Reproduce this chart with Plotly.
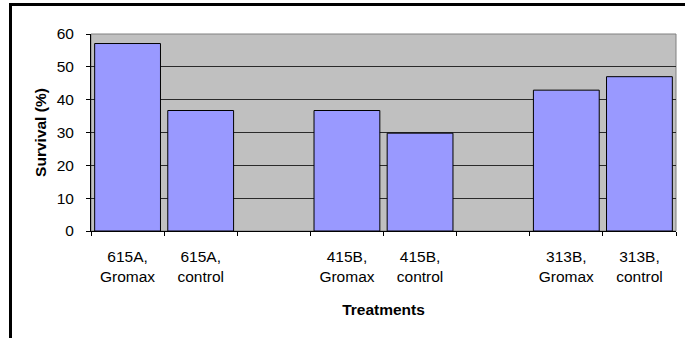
import plotly.graph_objects as go

categories = ["615A,<br>Gromax", "615A,<br>control", " ", "415B,<br>Gromax",
              "415B,<br>control", "  ", "313B,<br>Gromax", "313B,<br>control"]
survival = [57.1, 36.7, None, 36.7, 29.8, None, 42.9, 47.0]
y_ticks = [0, 10, 20, 30, 40, 50, 60]

FONT = "Liberation Sans, Arial, sans-serif"
FS = 15.5

fig = go.Figure()
fig.add_trace(go.Bar(
    x=categories, y=survival,
    marker=dict(color="#9999FF", line=dict(color="black", width=1)),
    hoverinfo="x+y",
))

W, H = 685, 338
L, R, T, B = 91, 9, 34, 107
pw, ph = W - L - R, H - T - B

def px_x(p):
    return (p - L) / pw

def px_y(p):
    return (H - B - p) / ph

fig.update_layout(
    width=W, height=H,
    margin=dict(l=L, r=R, t=T, b=B),
    paper_bgcolor="white",
    plot_bgcolor="#C0C0C0",
    bargap=0.1,
    showlegend=False,
    font=dict(family=FONT, size=FS, color="black"),
    xaxis=dict(
        type="category",
        showline=True, linecolor="black", linewidth=1,
        ticks="outside", tickson="boundaries", ticklen=4, tickcolor="black",
        showgrid=False,
        tickfont=dict(size=FS),
        ticklabelstandoff=11,
        title=dict(text="<b>Treatments</b>", font=dict(size=FS), standoff=20),
    ),
    yaxis=dict(
        range=[0, 60],
        tickvals=y_ticks,
        showline=True, linecolor="black", linewidth=1,
        ticks="outside", ticklen=4, tickcolor="black",
        showgrid=True, gridcolor="#2a2a2a", gridwidth=1,
        zeroline=False,
        tickfont=dict(size=FS),
        ticklabelstandoff=9,
        title=dict(text="<b>Survival (%)</b>", font=dict(size=FS), standoff=6),
    ),
    shapes=[
        dict(type="rect", xref="paper", yref="paper", x0=0, x1=1, y0=0, y1=1,
             line=dict(color="#808080", width=1), layer="below"),
        dict(type="rect", xref="paper", yref="paper",
             x0=px_x(10.5), x1=px_x(720), y0=px_y(4.5), y1=px_y(380),
             line=dict(color="black", width=3), fillcolor="rgba(0,0,0,0)"),
    ],
)

fig.write_html("out.html")
